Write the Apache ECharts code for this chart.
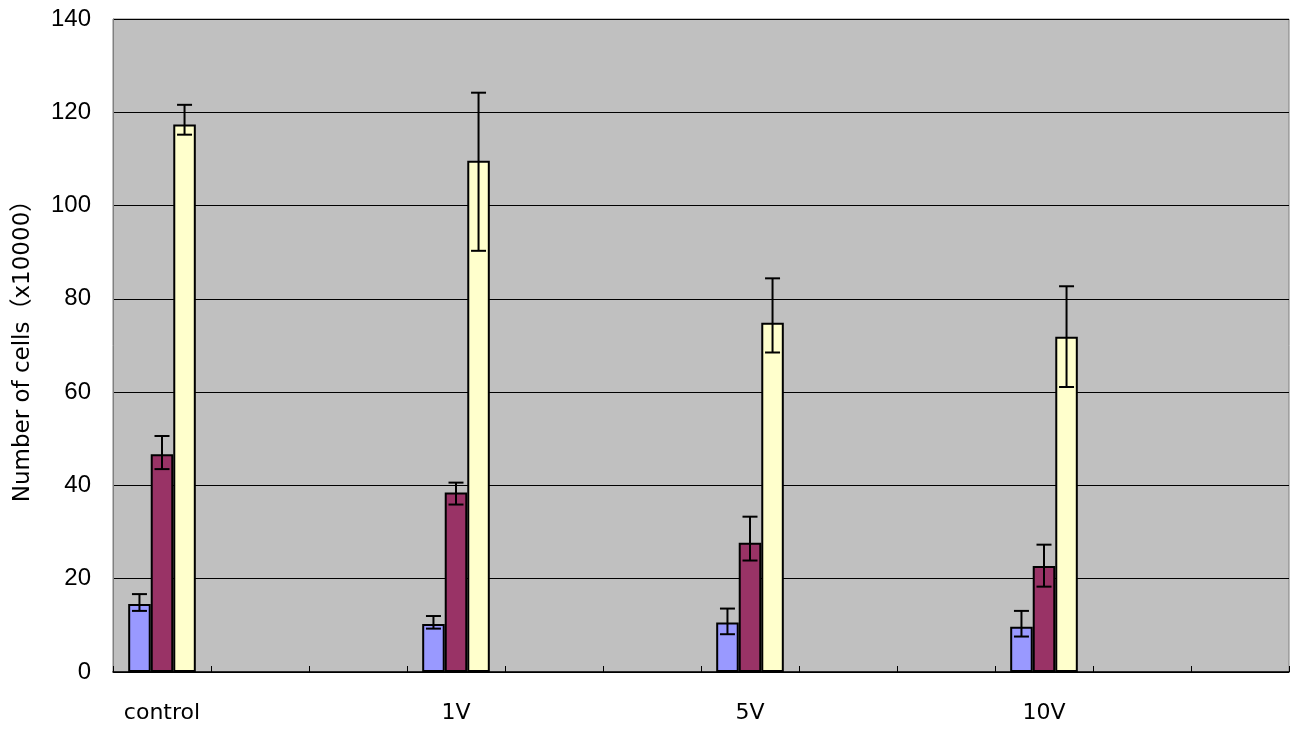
<!DOCTYPE html>
<html>
<head>
<meta charset="utf-8">
<script src="https://cdn.jsdelivr.net/npm/echarts@6/dist/echarts.min.js"></script>
<style>html,body{margin:0;padding:0;background:#fff;}#c{width:1292px;height:731px;}</style>
</head>
<body>
<div id="c"></div>
<script>
// ---- data ----
var groupLabels = ['control', '1V', '5V', '10V'];
var slotsPerGroup = 3;            // each group occupies 3 category slots on the axis
var yTicks = [0, 20, 40, 60, 80, 100, 120, 140];
var yTitle = 'Number of cells（x10000）';

var seriesNames = ['A', 'B', 'C'];
var seriesColors = ['#9999FF', '#993366', '#FFFFCC'];

var valuesA = [14.6, 10.3, 10.6, 9.7];
var lowA    = [13.1, 9.3, 8.1, 7.6];
var highA   = [16.7, 12.0, 13.6, 13.1];

var valuesB = [46.7, 38.5, 27.7, 22.7];
var lowB    = [43.5, 35.9, 23.9, 18.3];
var highB   = [50.6, 40.6, 33.3, 27.3];

var valuesC = [117.4, 109.6, 74.9, 71.9];
var lowC    = [115.2, 90.3, 68.5, 61.1];
var highC   = [121.6, 124.2, 84.4, 82.7];

// ---- build axis / series ----
var axisCats = [];
groupLabels.forEach(function (g) {
  axisCats.push(g);
  for (var k = 1; k < slotsPerGroup; k++) axisCats.push('');
});

function expand(vals) {
  var out = [];
  vals.forEach(function (v) {
    out.push(v);
    for (var k = 1; k < slotsPerGroup; k++) out.push('-');
  });
  return out;
}

var FONT = '"DejaVu Sans", "Noto Sans CJK JP", sans-serif';
var NUMFONT = '"Liberation Sans", "Noto Sans CJK JP", sans-serif';
var catGap = 0.31;
var nSeries = 3;

function errSeries(lows, highs, idx) {
  var data = [];
  lows.forEach(function (l, i) { data.push([i * slotsPerGroup, l, highs[i]]); });
  return {
    type: 'custom',
    z: 10,
    silent: true,
    data: data,
    encode: { x: 0, y: [1, 2] },
    renderItem: function (params, api) {
      var x = api.value(0);
      var pLow = api.coord([x, api.value(1)]);
      var pHigh = api.coord([x, api.value(2)]);
      var band = api.size([1, 0])[0];
      var bw = band * (1 - catGap) / nSeries;
      var cx = pLow[0] + (idx - (nSeries - 1) / 2) * bw;
      var cap = 7.5;
      var st = { stroke: '#000', lineWidth: 2 };
      return {
        type: 'group',
        children: [
          { type: 'line', shape: { x1: cx, y1: pLow[1], x2: cx, y2: pHigh[1] }, style: st },
          { type: 'line', shape: { x1: cx - cap, y1: pLow[1], x2: cx + cap, y2: pLow[1] }, style: st },
          { type: 'line', shape: { x1: cx - cap, y1: pHigh[1], x2: cx + cap, y2: pHigh[1] }, style: st }
        ]
      };
    }
  };
}

var allVals = [valuesA, valuesB, valuesC];
var allLows = [lowA, lowB, lowC];
var allHighs = [highA, highB, highC];

var series = [];
allVals.forEach(function (vals, i) {
  series.push({
    name: seriesNames[i],
    type: 'bar',
    data: expand(vals),
    barGap: '0%',
    barCategoryGap: (catGap * 100) + '%',
    itemStyle: { color: seriesColors[i], borderColor: '#000', borderWidth: 2 },
    z: 2
  });
});
allVals.forEach(function (vals, i) {
  series.push(errSeries(allLows[i], allHighs[i], i));
});

var chart = echarts.init(document.getElementById('c'));
chart.setOption({
  animation: false,
  backgroundColor: '#ffffff',
  grid: {
    left: 113, right: 3, top: 19, bottom: 59,
    containLabel: false,
    outerBoundsMode: 'none',
    show: true, backgroundColor: '#C0C0C0', borderColor: '#808080', borderWidth: 1
  },
  xAxis: {
    type: 'category',
    data: axisCats,
    boundaryGap: true,
    axisLine: { lineStyle: { color: '#000', width: 1.5 } },
    axisTick: { show: true, inside: true, length: 6, interval: 0, lineStyle: { color: '#000', width: 1 } },
    axisLabel: { interval: 0, color: '#000', fontSize: 22, fontFamily: FONT, margin: 30 },
    splitLine: { show: false }
  },
  yAxis: {
    type: 'value',
    min: yTicks[0],
    max: yTicks[yTicks.length - 1],
    interval: yTicks[1] - yTicks[0],
    axisLine: { show: true, lineStyle: { color: '#808080', width: 1 } },
    axisTick: { show: false },
    axisLabel: { color: '#000', fontSize: 24, fontFamily: NUMFONT, margin: 22 },
    splitLine: { show: true, lineStyle: { color: '#000', width: 1 } },
    name: yTitle,
    nameLocation: 'middle',
    nameGap: 78,
    nameRotate: 90,
    nameTextStyle: { color: '#000', fontSize: 23, fontFamily: FONT }
  },
  series: series
});
</script>
</body>
</html>
